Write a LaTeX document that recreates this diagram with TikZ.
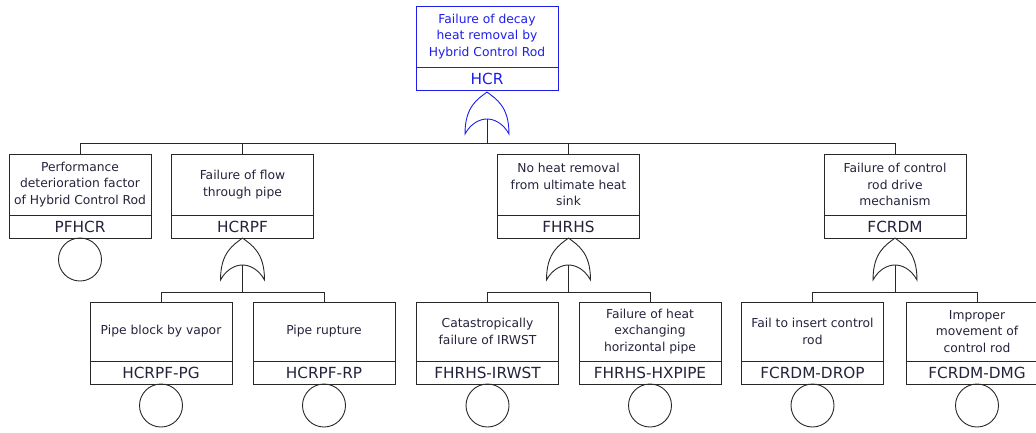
\documentclass[tikz,border=0pt]{standalone}
\usepackage{fontspec}
\setmainfont{DejaVu Sans}
\usetikzlibrary{calc}
\definecolor{topblue}{RGB}{30,30,235}
\definecolor{ink}{RGB}{35,35,60}
\definecolor{edge}{RGB}{40,40,40}
\tikzset{
  base/.style={draw=edge, line width=0.9pt, outer sep=0pt, minimum width=142pt, inner sep=0pt, align=center, text=ink},
  desc/.style={base, minimum height=61pt, font=\fontsize{12.3}{16.5}\selectfont},
  desc3/.style={desc, minimum height=59pt},
  idbox/.style={base, minimum height=23pt, font=\fontsize{15.3}{16}\selectfont},
  topev/.style={draw=topblue, text=topblue},
  basicev/.style={circle, draw=edge, line width=0.9pt, outer sep=0pt, minimum size=43pt, inner sep=0pt},
  conn/.style={draw=edge, line width=0.9pt},
  gateline/.style={line width=0.9pt, draw=#1},
}
\newcommand\orgate[3]{%
  \begin{scope}[shift={(#2)}]
    \draw[gateline=#3] (0,0) .. controls (-9,7) and (-22,14) .. (-22,42)
      .. controls (-16,31) and (-7,27) .. (0,27)
      .. controls (7,27) and (16,31) .. (22,42)
      .. controls (22,14) and (9,7) .. (0,0);
    \coordinate (#1) at (0,27);
  \end{scope}}
\begin{document}
\begin{tikzpicture}[x=1pt,y=-1pt]
\useasboundingbox (0,0) rectangle (1036,432);
\clip (0,0) rectangle (1036,432);
% top event
\node[desc, topev, anchor=north] (hcrD) at (487,6) {Failure of decay\\heat removal by\\Hybrid Control Rod};
\node[idbox, topev, anchor=north] (hcrI) at (hcrD.south) {HCR};
\orgate{hcrG}{[yshift=-2pt]hcrI.south}{topblue}
% level 2
\node[desc, anchor=north] (pfD) at (80,154) {Performance\\deterioration factor\\of Hybrid Control Rod};
\node[idbox, anchor=north] (pfI) at (pfD.south) {PFHCR};
\node[basicev, anchor=north] (pfC) at (pfI.south) {};
\node[desc, anchor=north] (hcpD) at (242.5,154) {Failure of flow\\through pipe};
\node[idbox, anchor=north] (hcpI) at (hcpD.south) {HCRPF};
\orgate{hcpG}{hcpI.south}{edge}
\node[desc, anchor=north] (fhD) at (568.5,154) {No heat removal\\from ultimate heat\\sink};
\node[idbox, anchor=north] (fhI) at (fhD.south) {FHRHS};
\orgate{fhG}{fhI.south}{edge}
\node[desc, anchor=north] (fcD) at (895,154) {Failure of control\\rod drive\\mechanism};
\node[idbox, anchor=north] (fcI) at (fcD.south) {FCRDM};
\orgate{fcG}{fcI.south}{edge}
% level 3
\node[desc3, anchor=north] (pgD) at (161,302) {Pipe block by vapor};
\node[idbox, anchor=north] (pgI) at (pgD.south) {HCRPF-PG};
\node[basicev, anchor=north] (pgC) at (pgI.south) {};
\node[desc3, anchor=north] (rpD) at (324,302) {Pipe rupture};
\node[idbox, anchor=north] (rpI) at (rpD.south) {HCRPF-RP};
\node[basicev, anchor=north] (rpC) at (rpI.south) {};
\node[desc3, anchor=north] (irD) at (487.5,302) {Catastropically\\failure of IRWST};
\node[idbox, anchor=north] (irI) at (irD.south) {FHRHS-IRWST};
\node[basicev, anchor=north] (irC) at (irI.south) {};
\node[desc3, anchor=north] (hxD) at (650,302) {Failure of heat\\exchanging\\horizontal pipe};
\node[idbox, anchor=north] (hxI) at (hxD.south) {FHRHS-HXPIPE};
\node[basicev, anchor=north] (hxC) at (hxI.south) {};
\node[desc3, anchor=north] (drD) at (812.5,302) {Fail to insert control\\rod};
\node[idbox, anchor=north] (drI) at (drD.south) {FCRDM-DROP};
\node[basicev, anchor=north] (drC) at (drI.south) {};
\node[desc3, anchor=north] (dmD) at (977,302) {Improper\\movement of\\control rod};
\node[idbox, anchor=north] (dmI) at (dmD.south) {FCRDM-DMG};
\node[basicev, anchor=north] (dmC) at (dmI.south) {};
% connectors level 1
\coordinate (b1) at ([yshift=11pt]pfD.north);
\draw[conn] (hcrG) -- (hcrG |- b1);
\draw[conn] (pfD.north) -- (b1) -| (fcD.north);
\draw[conn] (hcpD.north) -- (hcpD.north |- b1);
\draw[conn] (fhD.north) -- (fhD.north |- b1);
% connectors level 2
\coordinate (b2) at ([yshift=10pt]pgD.north);
\draw[conn] (hcpG) -- (hcpG |- b2);
\draw[conn] (pgD.north) -- (b2) -| (rpD.north);
\draw[conn] (fhG) -- (fhG |- b2);
\draw[conn] (irD.north) -- (irD.north |- b2) -| (hxD.north);
\draw[conn] (fcG) -- (fcG |- b2);
\draw[conn] (drD.north) -- (drD.north |- b2) -| (dmD.north);
\end{tikzpicture}
\end{document}
